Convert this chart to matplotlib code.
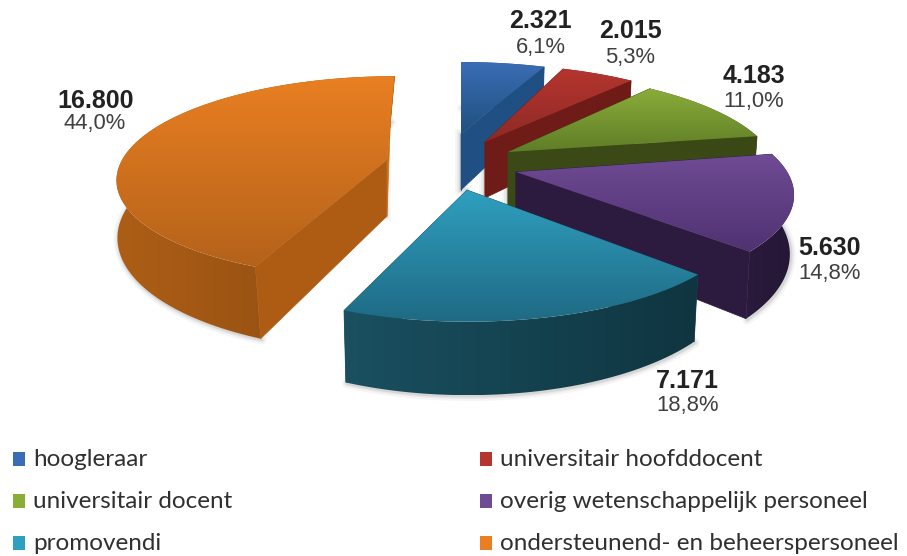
import numpy as np
import matplotlib
matplotlib.use('Agg')
import matplotlib.pyplot as plt
from matplotlib.patches import Polygon, Rectangle
from matplotlib.colors import LinearSegmentedColormap

# data
categories = ['hoogleraar', 'universitair hoofddocent', 'universitair docent',
              'overig wetenschappelijk personeel', 'promovendi',
              'ondersteunend- en beheerspersoneel']
values = [2321, 2015, 4183, 5630, 7171, 16800]
value_labels = ['2.321', '2.015', '4.183', '5.630', '7.171', '16.800']
percent_labels = ['6,1%', '5,3%', '11,0%', '14,8%', '18,8%', '44,0%']

# colours: top of face, bottom of face, radial walls, rim wall left, rim wall right
face_top = ['#3a6db4', '#b5352f', '#8aad3a', '#6f4b93', '#2f9fbf', '#e97f22']
face_bottom = ['#20507f', '#8e2a25', '#5f7d27', '#4f3272', '#1f6a84', '#b4621a']
wall_start = ['#1f4f83', '#6f1b17', '#3a4915', '#2c1b3e', '#164b5b', '#ae5c14']
wall_end = ['#1f4f83', '#6f1b17', '#3a4915', '#2c1b3e', '#164b5b', '#c9701e']
wall_left = ['#1f4f83', '#6f1b17', '#3a4915', '#2a1a3c', '#1a5060', '#ad5e16']
wall_right = ['#1f4f83', '#6f1b17', '#3a4915', '#241735', '#0f3540', '#8a4a10']

# layout of the exploded slices, in pixels
tips = [(461, 134), (485, 142), (508, 152), (516, 172), (467, 190), (387, 160)]
scales = [1.0, 1.0, 1.0, 1.0, 0.975, 0.96]
rim_shift = [(0, 8), (-5, 2), (-9, 0), (-2, -2), (1, 5), (0, -7)]
skews = [0, 0, 0, 0, 0, -0.09]
bottom_scale = [0.985, 0.985, 0.985, 0.985, 0.985, 1.0]
bottom_skew = [0, 0, 0, 0, 0, 0.05]
value_pos = [(540, 21), (630, 31), (754, 76), (830, 248), (687, 381), (96, 101)]
percent_pos = [(541, 47), (630, 58), (754, 101), (830, 273), (688, 405), (95, 124)]
legend_pos = [(13, 459), (480, 459), (13, 501), (480, 501), (13, 543), (480, 543)]

RX = 272.0
RY = 99.0
PERSP = 0.238
DEPTH = 56.0

fig = plt.figure(figsize=(9.07, 5.56), dpi=100)
ax = fig.add_axes([0, 0, 1, 1])
ax.axis('off')


def project(theta, i):
    # angle clockwise from the back of the pie, returns top and bottom point
    tip = tips[i]
    w = 1 + PERSP * np.cos(theta)
    dy = -scales[i] * RY * np.cos(theta) / w + rim_shift[i][1]
    dx = scales[i] * RX * np.sin(theta) / w + rim_shift[i][0] + skews[i] * dy
    d = DEPTH / w
    top = np.column_stack([tip[0] + dx, tip[1] + dy])
    bottom = np.column_stack([tip[0] + dx * bottom_scale[i] + bottom_skew[i] * dy, tip[1] + dy + d])
    return top, bottom


def gradient_fill(points, c1, c2, horizontal, z):
    # polygon filled by a two colour gradient
    cmap = LinearSegmentedColormap.from_list('grad', [c1, c2])
    ramp = np.linspace(0, 1, 256)
    ramp = ramp.reshape(1, -1) if horizontal else ramp.reshape(-1, 1)
    im = ax.imshow(ramp, cmap=cmap, aspect='auto', zorder=z,
                   extent=[points[:, 0].min(), points[:, 0].max(),
                           points[:, 1].max(), points[:, 1].min()])
    im.set_clip_path(Polygon(points, transform=ax.transData))


angles = np.cumsum([0] + values) / sum(values) * 2 * np.pi
z = 2

for i in range(len(values)):
    tip = tips[i]
    theta = np.linspace(angles[i], angles[i + 1], 120)
    top, bottom = project(theta, i)
    tip_bottom = (tip[0], tip[1] + DEPTH)

    # soft shadow under everything
    for width, alpha in [(7, 0.05), (4, 0.07), (2, 0.1)]:
        ax.plot(bottom[:, 0] + 1, bottom[:, 1] + 1, color='#404040', lw=width, alpha=alpha,
                solid_capstyle='round', zorder=1)
        ax.plot([tip[0] - 1, tip[0] - 1], [tip[1], tip_bottom[1]], color='#404040', lw=width,
                alpha=alpha, zorder=1)

    # radial walls
    for k, col in [(0, wall_start[i]), (-1, wall_end[i])]:
        ax.add_patch(Polygon([tip, top[k], bottom[k], tip_bottom], fc=col,
                             ec=col, lw=0.5, zorder=z))
    z += 1

    # rim wall, gradient left to right
    rim = np.vstack([top, bottom[::-1]])
    gradient_fill(rim, wall_left[i], wall_right[i], True, z)
    z += 1

    # top face with vertical gradient
    gradient_fill(np.vstack([[tip], top]), face_top[i], face_bottom[i], False, z)
    z += 1

    ax.text(value_pos[i][0], value_pos[i][1], value_labels[i], fontsize=18, fontweight='bold',
            family='Liberation Sans', color='#222222', ha='center', va='center', zorder=50)
    ax.text(percent_pos[i][0], percent_pos[i][1], percent_labels[i], fontsize=15.8,
            family='Liberation Sans', color='#404040', ha='center', va='center', zorder=50)

    # legend
    lx, ly = legend_pos[i]
    ax.add_patch(Rectangle((lx, ly - 7), 12, 14, fc=face_top[i], ec='none', zorder=50))
    ax.text(lx + 20, ly, categories[i], fontsize=17.5, family='Lato', color='#303030',
            ha='left', va='center', zorder=50)

ax.set_xlim(0, 907)
ax.set_ylim(556, 0)

fig.savefig('out.png', dpi=100, facecolor='white')
